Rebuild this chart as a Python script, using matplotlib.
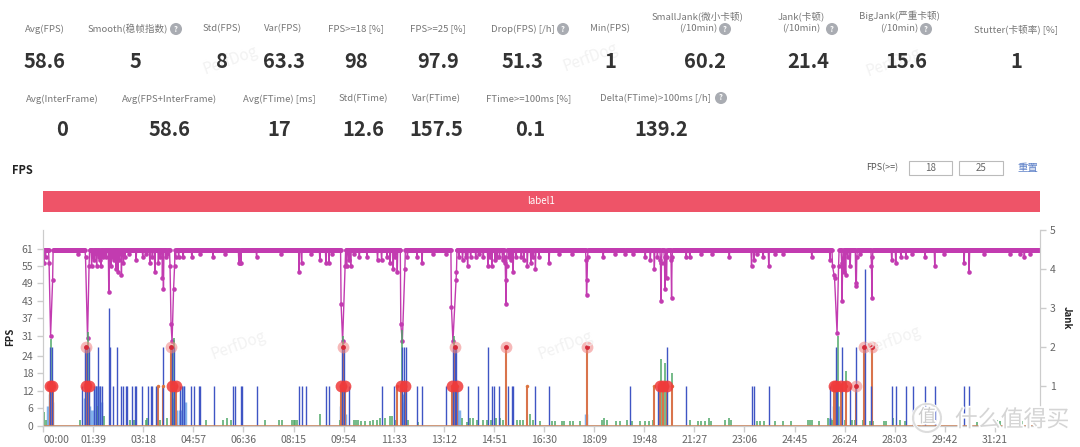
import numpy as np
import matplotlib
matplotlib.use("Agg")
import matplotlib.pyplot as plt
import matplotlib.patheffects as pe
from matplotlib.patches import Rectangle, Circle

plt.rcParams['font.family'] = ['Noto Sans CJK SC', 'DejaVu Sans']

# header stats
row1_names = ['Avg(FPS)', 'Smooth(稳帧指数)', 'Std(FPS)', 'Var(FPS)', 'FPS>=18 [%]', 'FPS>=25 [%]',
              'Drop(FPS) [/h]', 'Min(FPS)', '(/10min)', '(/10min)', '(/10min)', 'Stutter(卡顿率) [%]']
row1_vals = ['58.6', '5', '8', '63.3', '98', '97.9', '51.3', '1', '60.2', '21.4', '15.6', '1']
row2_names = ['Avg(InterFrame)', 'Avg(FPS+InterFrame)', 'Avg(FTime) [ms]', 'Std(FTime)', 'Var(FTime)',
              'FTime>=100ms [%]', 'Delta(FTime)>100ms [/h]']
row2_vals = ['0', '58.6', '17', '12.6', '157.5', '0.1', '139.2']
top_names = ['SmallJank(微小卡顿)', 'Jank(卡顿)', 'BigJank(严重卡顿)']

fps_ticks = [0, 6, 12, 18, 24, 31, 37, 43, 49, 55, 61]
jank_ticks = [1, 2, 3, 4, 5]
time_ticks = [0, 99, 198, 297, 396, 495, 594, 693, 792, 891, 990, 1089, 1188, 1287, 1386, 1485, 1584, 1683, 1782, 1881]
time_labels = ['00:00', '01:39', '03:18', '04:57', '06:36', '08:15', '09:54', '11:33', '13:12', '14:51',
               '16:30', '18:09', '19:48', '21:27', '23:06', '24:45', '26:24', '28:03', '29:42', '31:21']

# fps stays on the plateau except for the samples below (second: fps)
fps_plateau = 60.5
fps_dips = {
    2: 56, 5: 58, 70: 59,
    96: 55, 98: 58, 101: 57, 104: 59, 106: 55, 110: 58, 112: 57, 115: 55, 118: 58, 121: 59, 125: 58,
    130: 46, 134: 55, 137: 58, 140: 57, 144: 54, 148: 53, 151: 57, 155: 52, 159: 56, 162: 58, 170: 59,
    184: 57, 197: 58, 204: 59, 211: 56, 216: 58, 221: 53, 228: 56, 232: 58, 236: 51, 238: 47, 243: 58, 246: 59,
    262: 58, 268: 58, 277: 58, 294: 58, 310: 59, 336: 58, 360: 59, 387: 56, 389: 56, 391: 56, 422: 58, 470: 59,
    506: 53, 511: 56, 530: 59, 547: 57, 559: 56, 565: 56, 572: 59,
    600: 55, 604: 57, 608: 55, 615: 59, 625: 58, 640: 58, 661: 57, 669: 57, 680: 58, 686: 56, 692: 54, 696: 58,
    700: 53, 720: 58, 739: 58, 749: 56, 770: 59, 796: 59,
    822: 58, 829: 57, 835: 58, 839: 55, 845: 58, 855: 58, 862: 59, 870: 58, 879: 55, 883: 58, 887: 55, 893: 57,
    897: 58, 902: 58, 908: 57, 912: 56, 913: 58, 914: 50, 915: 42, 916: 55, 921: 58, 925: 57, 929: 53, 935: 58,
    945: 58, 950: 57, 957: 55, 964: 56, 968: 58, 973: 54, 980: 58, 1000: 56, 1020: 59, 1045: 59,
    1073: 57, 1074: 45, 1075: 50, 1076: 58, 1107: 58, 1130: 59, 1150: 59, 1165: 59, 1190: 58, 1200: 57,
    1208: 54, 1214: 58, 1220: 57, 1221: 43, 1222: 56, 1228: 56, 1229: 47, 1230: 58, 1232: 51, 1233: 58,
    1241: 57, 1242: 44, 1243: 58, 1271: 58, 1278: 58, 1300: 59, 1322: 59,
    1356: 58, 1400: 55, 1405: 57, 1410: 59, 1423: 58, 1434: 55, 1447: 59, 1463: 59, 1519: 58, 1555: 57,
    1578: 56, 1579: 43, 1580: 57, 1583: 53, 1586: 52, 1590: 58, 1595: 55, 1606: 49, 1607: 48, 1608: 58, 1615: 59,
    1637: 55, 1638: 44, 1639: 58, 1677: 57, 1685: 56, 1695: 58, 1705: 58, 1718: 59, 1743: 58, 1762: 55, 1780: 59,
    1820: 56, 1830: 53, 1860: 59, 1911: 59, 1930: 59, 1939: 58, 1951: 59,
}
fps_end = 1970

# the deep drops have only a few samples each
drop_t = [[12, 15, 19], [84, 88, 91], [251, 253, 255, 258, 260], [589, 592, 597],
          [707, 710, 715], [807, 810, 816, 817], [1560, 1563, 1564, 1569, 1572]]
drop_v = [[56, 31, 50], [58, 30, 55], [55, 35, 29, 47, 55], [42, 29, 55],
          [35, 29, 54], [41, 29, 50, 53], [55, 52, 51, 32, 55]]

# blue jank spikes
blue_t = [14, 18, 78, 83, 87, 91, 101, 105, 108, 109, 113, 117, 130, 132, 138, 146, 154, 158, 164, 166, 175, 182, 184,
          196, 207, 213, 215, 223, 238, 255, 259, 271, 275, 279, 292, 299, 308, 310, 337, 375, 379, 391, 393, 422,
          506, 512, 519, 559, 565, 591, 595, 605, 669, 694, 709, 713, 717, 739, 749, 796, 810, 814, 817, 839, 860,
          879, 887, 892, 901, 919, 926, 929, 972, 1000, 1159, 1216, 1232, 1271, 1400, 1404, 1434, 1555, 1566, 1569,
          1579, 1595, 1606, 1624, 1637, 1677, 1685, 1705, 1719, 1743, 1762, 1820, 1830]
blue_v = [2, 2, 1, 2, 2, 2, 1, 1, 2, 1, 1, 1, 3, 2, 1, 2, 1, 1, 1, 1, 1, 1, 1,
          1, 1, 1, 1, 1, 2, 2, 2, 1, 1, 1, 1, 1, 1, 1, 1, 1, 1, 1, 1, 1,
          1, 1, 1, 1, 1, 2, 2, 1, 1, 1, 2, 2, 2, 1, 1, 1, 2, 2, 2, 1, 1,
          2, 1, 1, 1, 1, 1, 1, 1, 1, 1, 1, 2, 1, 1, 1, 1, 1, 2, 1,
          2, 1, 2, 4, 1, 1, 1, 1, 1, 1, 1, 1, 1]

# lighter blue hump under the spikes
light_t = [10, 14, 18, 83, 87, 91, 97, 103, 107, 111, 115, 255, 259, 263, 271, 276, 280, 589, 593, 597,
           709, 713, 810, 814, 818, 822, 1555, 1563, 1571, 1073]
light_v = [0.5, 0.8, 0.6, 0.7, 0.9, 0.5, 0.4, 1, 1, 1, 0.6, 0.6, 0.7, 0.4, 0.4, 1, 0.6, 0.5, 0.7, 0.3,
           0.6, 0.8, 0.9, 1.2, 1.0, 0.4, 0.2, 0.5, 0.5, 0.3]

green_t = [2, 5, 73, 109, 121, 165, 171, 179, 203, 206, 232, 246, 322, 355, 363, 372, 438, 466, 472, 492, 495, 498, 502,
           548, 587, 614, 619, 623, 629, 636, 646, 652, 660, 666, 675, 685, 690, 695, 722, 741, 827, 837, 843, 850, 857,
           869, 878, 886, 896, 903, 909, 936, 942, 949, 962, 969, 982, 1005, 1011, 1025, 1029, 1041, 1048, 1061, 1104,
           1109, 1114, 1133, 1140, 1154, 1163, 1180, 1190, 1198, 1206, 1278, 1295, 1301, 1308, 1315, 1319, 1348, 1356,
           1360, 1410, 1417, 1424, 1447, 1463, 1478, 1511, 1516, 1519, 1534, 1552, 1559, 1585, 1598, 1605, 1621, 1635,
           1641, 1661, 1665, 1679, 1694, 1704, 1845, 1885, 1890, 1934,
           15, 89, 258, 592, 709, 812, 1221, 1229, 1242, 1570, 1587]
green_v = [0.35, 0.15, 0.15, 0.5, 0.25, 0.15, 0.15, 0.15, 0.15, 0.2, 0.15, 0.2, 0.15, 0.15, 0.2, 0.15, 0.15, 0.15, 0.15, 0.15, 0.15, 0.15, 0.15,
           0.3, 0.15, 0.15, 0.15, 0.15, 0.12, 0.12, 0.12, 0.15, 0.15, 0.2, 0.2, 0.25, 0.25, 0.15, 0.15, 0.1, 0.2, 0.1, 0.2, 0.2, 0.15,
           0.15, 0.15, 0.15, 0.2, 0.2, 0.15, 0.15, 0.15, 0.15, 0.3, 0.15, 0.12, 0.12, 0.12, 0.12, 0.12, 0.12, 0.12, 0.12, 0.15,
           0.2, 0.15, 0.12, 0.12, 0.15, 0.12, 0.12, 0.12, 0.12, 0.15, 0.15, 0.12, 0.12, 0.12, 0.2, 0.12, 0.15, 0.2,
           0.15, 0.12, 0.12, 0.12, 0.12, 0.12, 0.12, 0.15, 0.15, 0.15, 0.12, 0.2, 0.15, 0.15, 0.15, 0.15, 0.15, 0.12,
           0.12, 0.12, 0.12, 0.2, 0.15, 0.12, 0.1, 0.15, 0.12, 0.12,
           2.2, 2.4, 2.25, 2.3, 2.45, 2.3, 1.7, 1.6, 1.35, 2.3, 1.4]

# orange big-jank stems
orange_t = [14, 17, 20, 85, 91, 227, 237, 253, 254, 263, 589, 593, 597, 699, 707, 715, 808, 814, 818, 915, 957, 1074,
            1208, 1219, 1226, 1232, 1242, 1562, 1567, 1577, 1587, 1607, 1623, 1638]
orange_v = [1, 1, 1, 2, 1, 1, 1, 2, 1, 1, 1, 2, 1, 1, 1, 1, 1, 2, 1, 2, 1, 2,
            1, 1, 1, 1, 1, 1, 1, 1, 1, 1, 2, 2]

# red highlighted points
hot_t = [14, 18, 85, 91, 254, 263, 589, 597, 707, 715, 808, 818, 1219, 1226, 1232, 1562, 1567, 1577, 1587]
hot_v = [1, 1, 1, 1, 1, 1, 1, 1, 1, 1, 1, 1, 1, 1, 1, 1, 1, 1, 1]
pale_t = [85, 253, 593, 814, 915, 1074, 1607, 1623, 1638]
pale_v = [2, 2, 2, 2, 2, 2, 1, 2, 2]

# plateau seconds + dips, with the seconds inside a deep drop left out
flat_t = [t for t in range(fps_end) if not any(s[0] <= t <= s[-1] for s in drop_t)]
fps_t = np.array(flat_t + sum(drop_t, []))
fps_v = np.array([fps_dips.get(t, fps_plateau) for t in flat_t] + sum(drop_v, []))
order = np.argsort(fps_t)

W, H = 1080, 447
fig = plt.figure(figsize=(W / 100, H / 100), dpi=100)
L, R, T, B = 43, 1040, 230, 425.5
ax = fig.add_axes([L / W, 1 - B / H, (R - L) / W, (B - T) / H])
ax2 = ax.twinx()

ax.plot(fps_t[order], fps_v[order], color='#c23bb0', lw=1, marker='o', ms=3.3, mew=0)
ax.set_xlim(0, fps_end)
ax.set_ylim(0, 67.4)
ax.set_yticks(fps_ticks)
ax.set_xticks(time_ticks)
ax.set_xticklabels(time_labels)
ax.get_xticklabels()[0].set_ha('left')

ax2.set_ylim(0, 5)
ax2.set_yticks(jank_ticks)
ax2.vlines(light_t, 0, light_v, color='#6fa5e8', lw=2.5, alpha=0.85)
ax2.vlines(green_t, 0, green_v, color='#4fa868', lw=1.1)
ax2.vlines(orange_t, 0, orange_v, color='#d9744c', lw=1.5)
ax2.vlines(blue_t, 0, blue_v, color='#3f55c4', lw=1.0)
ax2.axhline(0, color='#c9845e', lw=1.2)
ax2.plot(orange_t, orange_v, 'o', color='#dc7440', ms=2.5, mew=0)
ax2.plot(pale_t, pale_v, 'o', color='#f08080', alpha=0.55, ms=8.5, mew=0)
ax2.plot(hot_t, hot_v, 'o', color='#f03a3a', alpha=0.85, ms=8.5, mew=0)
ax2.plot(pale_t, pale_v, 'o', color='#d42a3a', ms=3.5, mew=0)

for a in (ax, ax2):
    a.patch.set_visible(False)
    a.spines['top'].set_visible(False)
    for s in a.spines.values():
        s.set_color('#cccccc')
    a.tick_params(colors='#666666', labelsize=7.5, length=4, width=1, color='#cccccc', pad=3)

# everything outside the plot, placed in pixels
ov = fig.add_axes([0, 0, 1, 1], zorder=5)
ov.set_xlim(0, W)
ov.set_ylim(H, 0)
ov.axis('off')

for x, y in [(230, 60), (590, 57), (893, 62), (238, 345), (565, 345), (893, 340)]:
    ov.text(x, y, 'PerfDog', rotation=20, ha='center', va='center', fontsize=11, color='#efefef', alpha=0.8)

label_c = '#777777'
val_c = '#333333'
row1_x = [45, 128, 222, 283, 356, 438, 523, 610, 698, 801, 899, 1016]
val1_x = [45, 135, 222, 284, 356, 438, 523, 610, 705, 808, 906, 1016]
for name, val, x, vx in zip(row1_names, row1_vals, row1_x, val1_x):
    ov.text(x, 29, name, ha='center', va='center', fontsize=6.9, color=label_c)
    ov.text(vx, 61, val, ha='center', va='center', fontsize=14.5, color=val_c, fontweight='bold')
for name, x in zip(top_names, [698, 801, 899]):
    ov.text(x, 16, name, ha='center', va='center', fontsize=6.9, color=label_c)
row2_x = [62, 170, 279, 363, 436, 529, 655]
val2_x = [62, 170, 279, 363, 436, 530, 661]
for name, val, x, vx in zip(row2_names, row2_vals, row2_x, val2_x):
    ov.text(x, 99, name, ha='center', va='center', fontsize=6.9, color=label_c)
    ov.text(vx, 130, val, ha='center', va='center', fontsize=14.5, color=val_c, fontweight='bold')
for x, y in [(176, 29), (563, 29), (725, 29), (832, 29), (926, 29), (721, 98)]:
    ov.text(x, y, '?', ha='center', va='center', fontsize=5.5, color='white', fontweight='bold',
            bbox=dict(boxstyle='circle,pad=0.2', fc='#a9acb2', ec='none'))

ov.text(22, 170, 'FPS', ha='center', va='center', fontsize=8, fontweight='bold', color='#222222')
ov.text(882, 168, 'FPS(>=)', ha='center', va='center', fontsize=6.5, color='#555555')
for x0, x1, s in [(909, 952, '18'), (959, 1003, '25')]:
    ov.add_patch(Rectangle((x0, 161), x1 - x0, 14, fc='white', ec='#bbbbbb', lw=0.8))
    ov.text((x0 + x1) / 2, 168, s, ha='center', va='center', fontsize=7, color='#666666')
ov.text(1028, 168, '重置', ha='center', va='center', fontsize=7.5, color='#5b7fc7')

ov.add_patch(Rectangle((43, 191), 997, 21, fc='#ee5468', ec='none'))
ov.text(541, 201, 'label1', ha='center', va='center', fontsize=7, color='white')

ov.text(10, 337, 'FPS', rotation=90, ha='center', va='center', fontsize=7, fontweight='bold', color='#222222')
ov.text(1067, 318, 'Jank', rotation=270, ha='center', va='center', fontsize=7, fontweight='bold', color='#222222')

# site mark bottom right
halo = [pe.withStroke(linewidth=2.5, foreground='white')]
ov.add_patch(Circle((927, 418), 14, fc='none', ec='#dddddd', lw=1.5, path_effects=halo))
ov.text(927, 417, '值', ha='center', va='center', fontsize=13, color='#cccccc', path_effects=halo)
ov.text(1012, 420, '什么值得买', ha='center', va='center', fontsize=16.5, color='#d5d5d5', path_effects=halo)

fig.savefig('out.png', dpi=100)
